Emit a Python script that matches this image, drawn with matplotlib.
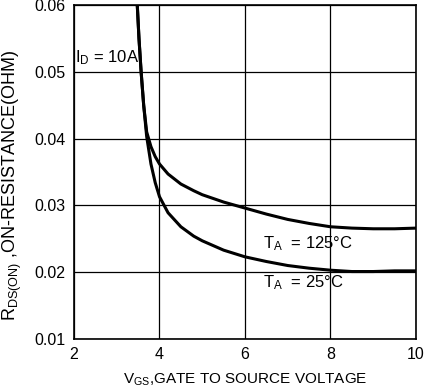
import numpy as np
import matplotlib
matplotlib.use("Agg")
import matplotlib.pyplot as plt

plt.rcParams['font.family'] = ['Liberation Sans', 'DejaVu Sans']
plt.rcParams['mathtext.fontset'] = 'custom'
plt.rcParams['mathtext.rm'] = 'Liberation Sans'
plt.rcParams['mathtext.it'] = 'Liberation Sans'

# gate voltage (V) and on-resistance (ohm)
vgs = [3.48, 3.52, 3.57, 3.63, 3.7, 3.8, 3.9, 4.0, 4.2, 4.5, 4.8, 5.0, 5.5, 6.0, 6.5, 7.0, 7.5, 8.0, 8.5, 9.0, 9.5, 10.0]
r_125 = [0.060, 0.055, 0.050, 0.045, 0.0410, 0.0388, 0.0373, 0.0362, 0.0347, 0.0332, 0.0322, 0.0316, 0.0305, 0.0296, 0.0287, 0.0279, 0.0273, 0.0268, 0.0266, 0.0265, 0.0265, 0.0266]
r_25 = [0.060, 0.055, 0.050, 0.045, 0.0403, 0.0362, 0.0334, 0.0313, 0.0289, 0.0268, 0.0254, 0.0247, 0.0233, 0.0223, 0.0216, 0.0210, 0.0206, 0.0203, 0.0201, 0.0201, 0.0202, 0.0202]

xticks = [2, 4, 6, 8, 10]
yticks = [0.01, 0.02, 0.03, 0.04, 0.05, 0.06]

fig = plt.figure(figsize=(4.35, 3.89), dpi=100)
ax = fig.add_axes([74 / 435, 50 / 389, 342 / 435, 334 / 389])

ax.plot(vgs, r_125, color='black', lw=2.2)
ax.plot(vgs, r_25, color='black', lw=2.2)

ax.set_xlim(2, 10)
ax.set_ylim(0.01, 0.06)
ax.set_xticks(xticks)
ax.set_yticks(yticks)
ax.set_xticklabels([str(t) for t in xticks])
ax.set_yticklabels(['%.2f' % t for t in yticks])
ax.tick_params(length=0, labelsize=11.5, pad=6)
ax.grid(True, color='black', lw=0.9)
for s in ax.spines.values():
    s.set_linewidth(1.2)

ax.text(2.02, 0.0521, r'I$_{\mathrm{D}}$ = 10A', fontsize=12, va='center')
ax.text(6.42, 0.0242, r'T$_{\mathrm{A}}$  = 125°C', fontsize=12, va='center')
ax.text(6.42, 0.0185, r'T$_{\mathrm{A}}$  = 25°C', fontsize=12, va='center')

ax.set_xlabel(r'V$_{\mathrm{GS}}$,GATE TO SOURCE VOLTAGE', fontsize=11, labelpad=7)
ax.set_ylabel(r'R$_{\mathrm{DS(ON)}}$ ,ON-RESISTANCE(OHM)', fontsize=13)
ax.yaxis.set_label_coords(-0.145, 0.46)

fig.savefig('out.png', dpi=100)
